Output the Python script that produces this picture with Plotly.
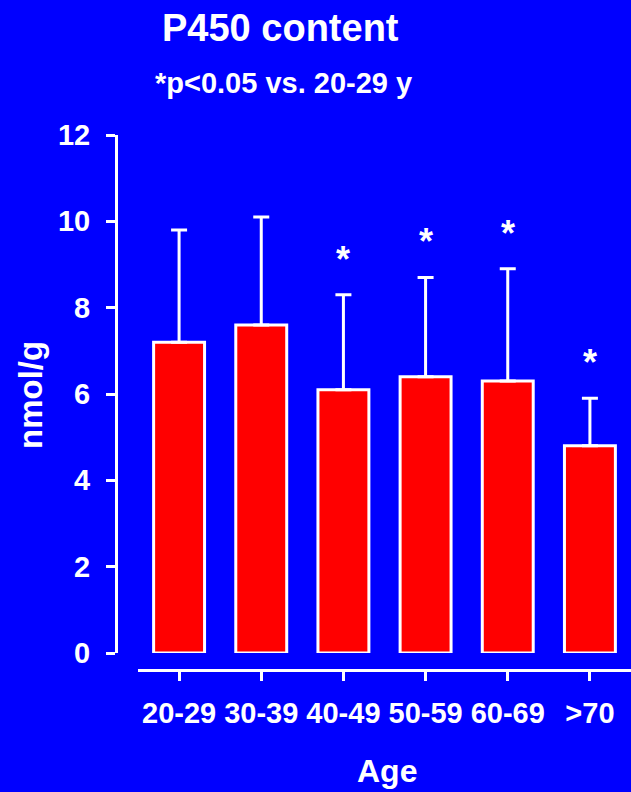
import plotly.graph_objects as go

categories = ["20-29", "30-39", "40-49", "50-59", "60-69", ">70"]
means = [7.2, 7.6, 6.1, 6.4, 6.3, 4.8]
sds = [2.6, 2.5, 2.2, 2.3, 2.6, 1.1]
significant = [False, False, True, True, True, True]
y_ticks = [0, 2, 4, 6, 8, 10, 12]

W, H = 631, 792
ML, MR, MT, MB = 116, 0, 135, 122
PW, PH = W - ML - MR, H - MT - MB

def px(x):
    return (x - ML) / PW

def py(y):
    return (H - MB - y) / PH

FONT = "Liberation Sans, Arial, sans-serif"
WHITE = "#FFFFFF"
BLUE = "#0000FF"

fig = go.Figure()
fig.add_trace(go.Bar(
    x=list(range(len(categories))),
    y=means,
    width=0.62,
    marker=dict(color="#FF0000", line=dict(color=WHITE, width=3)),
    error_y=dict(type="data", symmetric=False, array=sds,
                 arrayminus=[0] * len(sds), color=WHITE, thickness=3, width=8),
    showlegend=False,
    hoverinfo="skip",
))

annotations = []
for i, (m, s, sig) in enumerate(zip(means, sds, significant)):
    if sig:
        annotations.append(dict(
            x=i, y=m + s, xref="x", yref="y", text="<b>*</b>", showarrow=False,
            yanchor="bottom", yshift=13,
            font=dict(family=FONT, size=36, color=WHITE)))

annotations += [
    dict(x=px(280), y=py(28), xref="paper", yref="paper", showarrow=False,
         text="<b>P450 content</b>", xanchor="center", yanchor="middle",
         font=dict(family=FONT, size=38, color=WHITE)),
    dict(x=px(283), y=py(83), xref="paper", yref="paper", showarrow=False,
         text="<b>*p<0.05 vs. 20-29 y</b>", xanchor="center", yanchor="middle",
         font=dict(family=FONT, size=29, color=WHITE)),
    dict(x=px(30), y=py(395), xref="paper", yref="paper", showarrow=False,
         text="<b>nmol/g</b>", textangle=-90, xanchor="center", yanchor="middle",
         font=dict(family=FONT, size=33, color=WHITE)),
    dict(x=px(387), y=py(771), xref="paper", yref="paper", showarrow=False,
         text="<b>Age</b>", xanchor="center", yanchor="middle",
         font=dict(family=FONT, size=32, color=WHITE)),
]

fig.update_layout(
    width=W, height=H,
    margin=dict(l=ML, r=MR, t=MT, b=MB, pad=0),
    paper_bgcolor=BLUE, plot_bgcolor=BLUE,
    annotations=annotations,
    xaxis=dict(
        domain=[px(138), 1], range=[-0.5, 5.5], anchor="free", position=0,
        tickmode="array", tickvals=list(range(len(categories))), ticktext=categories,
        showline=True, linecolor=WHITE, linewidth=3,
        ticks="outside", ticklen=9, tickwidth=3, tickcolor=WHITE,
        showgrid=False, zeroline=False, automargin=False, ticklabelstandoff=7,
        tickfont=dict(family=FONT, size=29, color=WHITE, weight="bold"),
    ),
    yaxis=dict(
        domain=[py(653), 1], range=[0, 12], anchor="free", position=0,
        tickmode="array", tickvals=y_ticks,
        showline=True, linecolor=WHITE, linewidth=3,
        ticks="outside", ticklen=9, tickwidth=3, tickcolor=WHITE,
        showgrid=False, zeroline=False, automargin=False, ticklabelstandoff=10,
        tickfont=dict(family=FONT, size=29, color=WHITE, weight="bold"),
    ),
)

fig.write_html(
    "out.html",
    config={"displayModeBar": False},
    post_script=(
        "document.body.style.margin='0';"
        "document.body.style.padding='0';"
        "document.body.style.overflow='hidden';"
        "document.body.style.background='#0000FF';"
        "window.dispatchEvent(new Event('resize'));"
    ),
)
